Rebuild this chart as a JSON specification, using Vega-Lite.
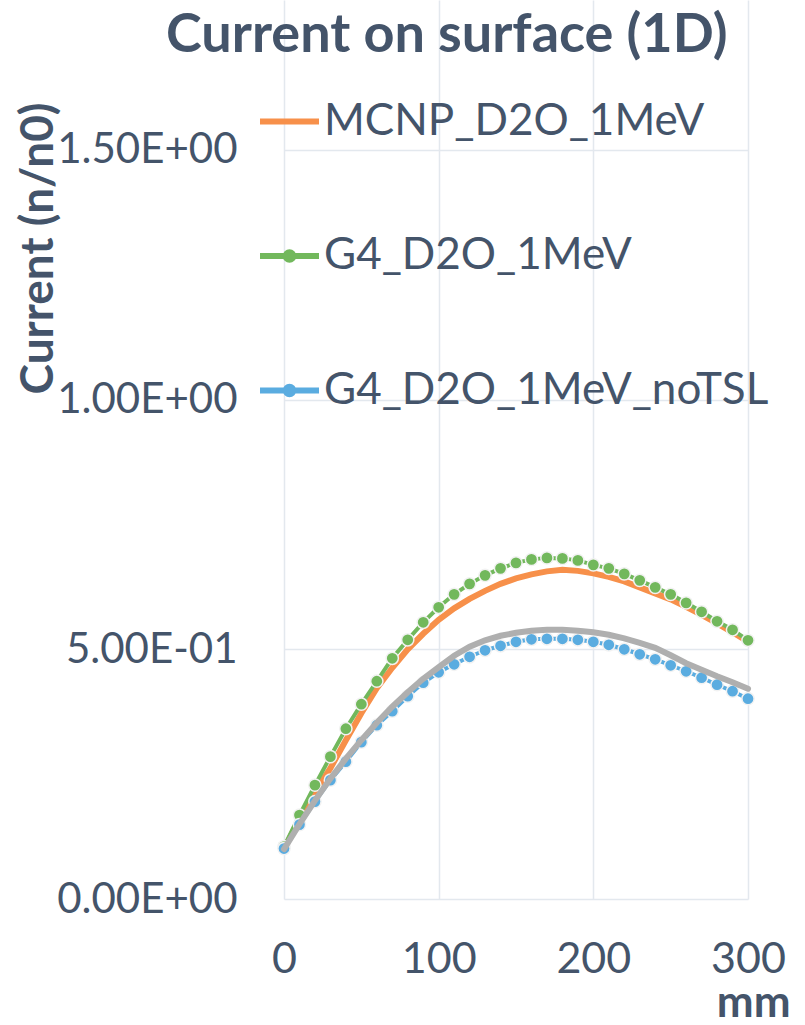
{
  "$schema": "https://vega.github.io/schema/vega-lite/v6.json",
  "width": 464,
  "height": 899,
  "autosize": {"type": "none"},
  "padding": {"left": 284, "top": 0, "right": 57, "bottom": 126},
  "background": "white",
  "config": {"view": {"stroke": null}, "font": "Lato"},
  "title": {
    "text": "Current on surface (1D)",
    "orient": "top",
    "anchor": "start",
    "frame": "group",
    "offset": -106,
    "dx": -118,
    "baseline": "alphabetic",
    "font": "Lato",
    "fontSize": 54,
    "fontWeight": "bold",
    "color": "#44546A"
  },
  "data": {
    "values": [
      {"mm": 0, "MCNP_D2O_1MeV": 0.100, "G4_D2O_1MeV": 0.105, "G4_D2O_1MeV_noTSL": 0.101, "MCNP_D2O_1MeV_noTSL": 0.100},
      {"mm": 10, "MCNP_D2O_1MeV": 0.160, "G4_D2O_1MeV": 0.168, "G4_D2O_1MeV_noTSL": 0.149, "MCNP_D2O_1MeV_noTSL": 0.150},
      {"mm": 20, "MCNP_D2O_1MeV": 0.215, "G4_D2O_1MeV": 0.228, "G4_D2O_1MeV_noTSL": 0.195, "MCNP_D2O_1MeV_noTSL": 0.197},
      {"mm": 30, "MCNP_D2O_1MeV": 0.262, "G4_D2O_1MeV": 0.285, "G4_D2O_1MeV_noTSL": 0.238, "MCNP_D2O_1MeV_noTSL": 0.241},
      {"mm": 40, "MCNP_D2O_1MeV": 0.318, "G4_D2O_1MeV": 0.341, "G4_D2O_1MeV_noTSL": 0.275, "MCNP_D2O_1MeV_noTSL": 0.281},
      {"mm": 50, "MCNP_D2O_1MeV": 0.372, "G4_D2O_1MeV": 0.390, "G4_D2O_1MeV_noTSL": 0.314, "MCNP_D2O_1MeV_noTSL": 0.318},
      {"mm": 60, "MCNP_D2O_1MeV": 0.422, "G4_D2O_1MeV": 0.436, "G4_D2O_1MeV_noTSL": 0.348, "MCNP_D2O_1MeV_noTSL": 0.353},
      {"mm": 70, "MCNP_D2O_1MeV": 0.463, "G4_D2O_1MeV": 0.482, "G4_D2O_1MeV_noTSL": 0.376, "MCNP_D2O_1MeV_noTSL": 0.385},
      {"mm": 80, "MCNP_D2O_1MeV": 0.500, "G4_D2O_1MeV": 0.519, "G4_D2O_1MeV_noTSL": 0.406, "MCNP_D2O_1MeV_noTSL": 0.414},
      {"mm": 90, "MCNP_D2O_1MeV": 0.531, "G4_D2O_1MeV": 0.554, "G4_D2O_1MeV_noTSL": 0.433, "MCNP_D2O_1MeV_noTSL": 0.441},
      {"mm": 100, "MCNP_D2O_1MeV": 0.559, "G4_D2O_1MeV": 0.584, "G4_D2O_1MeV_noTSL": 0.454, "MCNP_D2O_1MeV_noTSL": 0.464},
      {"mm": 110, "MCNP_D2O_1MeV": 0.582, "G4_D2O_1MeV": 0.610, "G4_D2O_1MeV_noTSL": 0.470, "MCNP_D2O_1MeV_noTSL": 0.487},
      {"mm": 120, "MCNP_D2O_1MeV": 0.601, "G4_D2O_1MeV": 0.631, "G4_D2O_1MeV_noTSL": 0.485, "MCNP_D2O_1MeV_noTSL": 0.505},
      {"mm": 130, "MCNP_D2O_1MeV": 0.617, "G4_D2O_1MeV": 0.648, "G4_D2O_1MeV_noTSL": 0.498, "MCNP_D2O_1MeV_noTSL": 0.518},
      {"mm": 140, "MCNP_D2O_1MeV": 0.631, "G4_D2O_1MeV": 0.662, "G4_D2O_1MeV_noTSL": 0.507, "MCNP_D2O_1MeV_noTSL": 0.527},
      {"mm": 150, "MCNP_D2O_1MeV": 0.642, "G4_D2O_1MeV": 0.673, "G4_D2O_1MeV_noTSL": 0.515, "MCNP_D2O_1MeV_noTSL": 0.533},
      {"mm": 160, "MCNP_D2O_1MeV": 0.650, "G4_D2O_1MeV": 0.680, "G4_D2O_1MeV_noTSL": 0.520, "MCNP_D2O_1MeV_noTSL": 0.537},
      {"mm": 170, "MCNP_D2O_1MeV": 0.656, "G4_D2O_1MeV": 0.683, "G4_D2O_1MeV_noTSL": 0.521, "MCNP_D2O_1MeV_noTSL": 0.539},
      {"mm": 180, "MCNP_D2O_1MeV": 0.659, "G4_D2O_1MeV": 0.682, "G4_D2O_1MeV_noTSL": 0.521, "MCNP_D2O_1MeV_noTSL": 0.539},
      {"mm": 190, "MCNP_D2O_1MeV": 0.657, "G4_D2O_1MeV": 0.678, "G4_D2O_1MeV_noTSL": 0.519, "MCNP_D2O_1MeV_noTSL": 0.537},
      {"mm": 200, "MCNP_D2O_1MeV": 0.652, "G4_D2O_1MeV": 0.669, "G4_D2O_1MeV_noTSL": 0.515, "MCNP_D2O_1MeV_noTSL": 0.534},
      {"mm": 210, "MCNP_D2O_1MeV": 0.645, "G4_D2O_1MeV": 0.662, "G4_D2O_1MeV_noTSL": 0.509, "MCNP_D2O_1MeV_noTSL": 0.529},
      {"mm": 220, "MCNP_D2O_1MeV": 0.636, "G4_D2O_1MeV": 0.651, "G4_D2O_1MeV_noTSL": 0.500, "MCNP_D2O_1MeV_noTSL": 0.522},
      {"mm": 230, "MCNP_D2O_1MeV": 0.624, "G4_D2O_1MeV": 0.638, "G4_D2O_1MeV_noTSL": 0.490, "MCNP_D2O_1MeV_noTSL": 0.513},
      {"mm": 240, "MCNP_D2O_1MeV": 0.612, "G4_D2O_1MeV": 0.624, "G4_D2O_1MeV_noTSL": 0.480, "MCNP_D2O_1MeV_noTSL": 0.503},
      {"mm": 250, "MCNP_D2O_1MeV": 0.600, "G4_D2O_1MeV": 0.610, "G4_D2O_1MeV_noTSL": 0.468, "MCNP_D2O_1MeV_noTSL": 0.488},
      {"mm": 260, "MCNP_D2O_1MeV": 0.585, "G4_D2O_1MeV": 0.593, "G4_D2O_1MeV_noTSL": 0.456, "MCNP_D2O_1MeV_noTSL": 0.472},
      {"mm": 270, "MCNP_D2O_1MeV": 0.569, "G4_D2O_1MeV": 0.575, "G4_D2O_1MeV_noTSL": 0.443, "MCNP_D2O_1MeV_noTSL": 0.459},
      {"mm": 280, "MCNP_D2O_1MeV": 0.552, "G4_D2O_1MeV": 0.556, "G4_D2O_1MeV_noTSL": 0.429, "MCNP_D2O_1MeV_noTSL": 0.446},
      {"mm": 290, "MCNP_D2O_1MeV": 0.534, "G4_D2O_1MeV": 0.539, "G4_D2O_1MeV_noTSL": 0.416, "MCNP_D2O_1MeV_noTSL": 0.434},
      {"mm": 300, "MCNP_D2O_1MeV": 0.515, "G4_D2O_1MeV": 0.518, "G4_D2O_1MeV_noTSL": 0.401, "MCNP_D2O_1MeV_noTSL": 0.421}
    ]
  },
  "transform": [
    {"fold": ["MCNP_D2O_1MeV", "G4_D2O_1MeV", "G4_D2O_1MeV_noTSL", "MCNP_D2O_1MeV_noTSL"], "as": ["series", "current"]}
  ],
  "encoding": {
    "x": {
      "field": "mm",
      "type": "quantitative",
      "scale": {"domain": [0, 300], "nice": false, "zero": false},
      "axis": {
        "values": [0, 100, 200, 300],
        "title": "mm",
        "titleFont": "Lato",
        "titleFontWeight": "bold",
        "titleFontSize": 44,
        "titleColor": "#44546A",
        "titleX": 506,
        "titleY": 117,
        "titleAlign": "right",
        "titleBaseline": "alphabetic",
        "labelFont": "Lato",
        "labelFontSize": 43,
        "labelColor": "#44546A",
        "labelPadding": 39,
        "labelFlush": false,
        "labelOverlap": false,
        "ticks": false,
        "domain": false,
        "grid": true,
        "gridColor": "#E3E8EE",
        "gridWidth": 1.5
      }
    },
    "y": {
      "field": "current",
      "type": "quantitative",
      "scale": {"domain": [0, 1.8], "nice": false},
      "axis": {
        "values": [0, 0.5, 1, 1.5],
        "labelExpr": "replace(replace(format(datum.value, '.2e'), 'e+', 'E+0'), 'e-', 'E-0')",
        "title": "Current (n/n0)",
        "titleFont": "Lato",
        "titleFontWeight": "bold",
        "titleFontSize": 46,
        "titleColor": "#44546A",
        "titleAngle": 270,
        "titleX": -232,
        "titleY": 248,
        "titleAlign": "center",
        "titleBaseline": "alphabetic",
        "labelFont": "Lato",
        "labelFontSize": 42,
        "labelColor": "#44546A",
        "labelPadding": 47,
        "labelLimit": 400,
        "labelOverlap": false,
        "ticks": false,
        "domain": false,
        "grid": true,
        "gridColor": "#E3E8EE",
        "gridWidth": 1.5
      }
    },
    "color": {
      "field": "series",
      "type": "nominal",
      "scale": {
        "domain": ["MCNP_D2O_1MeV", "G4_D2O_1MeV", "G4_D2O_1MeV_noTSL", "MCNP_D2O_1MeV_noTSL"],
        "range": ["#F7904A", "#72B85C", "#5AACE0", "#AFAFAF"]
      },
      "legend": {
        "values": ["MCNP_D2O_1MeV", "G4_D2O_1MeV", "G4_D2O_1MeV_noTSL"],
        "title": null,
        "orient": "none",
        "legendX": -27,
        "legendY": 89,
        "direction": "vertical",
        "padding": 0,
        "rowPadding": 79.5,
        "labelFont": "Lato",
        "labelFontSize": 44,
        "labelColor": "#44546A",
        "labelOffset": 2,
        "labelLimit": 700,
        "symbolSize": 3481,
        "symbolStrokeWidth": 6,
        "symbolType": "stroke",
        "encode": {
          "symbols": {
            "update": {
              "shape": {"signal": "datum.value === 'MCNP_D2O_1MeV' ? 'stroke' : 'M-1,0H1M0.13,0A0.13,0.13,0,1,1,-0.13,0A0.13,0.13,0,1,1,0.13,0Z'"},
              "fill": {"scale": "color", "field": "value"},
              "stroke": {"scale": "color", "field": "value"},
              "opacity": {"value": 1}
            }
          }
        }
      }
    }
  },
  "layer": [
    {
      "transform": [{"filter": "datum.series === 'MCNP_D2O_1MeV'"}],
      "mark": {"type": "line", "strokeWidth": 6, "strokeCap": "round"}
    },
    {
      "transform": [{"filter": "datum.series === 'G4_D2O_1MeV'"}],
      "mark": {"type": "line", "strokeWidth": 4}
    },
    {
      "transform": [{"filter": "datum.series === 'G4_D2O_1MeV'"}],
      "mark": {"type": "point", "filled": true, "size": 150, "stroke": "#F2F2F2", "strokeWidth": 1.5, "opacity": 1}
    },
    {
      "transform": [{"filter": "datum.series === 'G4_D2O_1MeV_noTSL'"}],
      "mark": {"type": "line", "strokeWidth": 4}
    },
    {
      "transform": [{"filter": "datum.series === 'G4_D2O_1MeV_noTSL'"}],
      "mark": {"type": "point", "filled": true, "size": 150, "stroke": "#F2F2F2", "strokeWidth": 1.5, "opacity": 1}
    },
    {
      "transform": [{"filter": "datum.series === 'MCNP_D2O_1MeV_noTSL'"}],
      "mark": {"type": "line", "strokeWidth": 6, "strokeCap": "round"}
    }
  ]
}
